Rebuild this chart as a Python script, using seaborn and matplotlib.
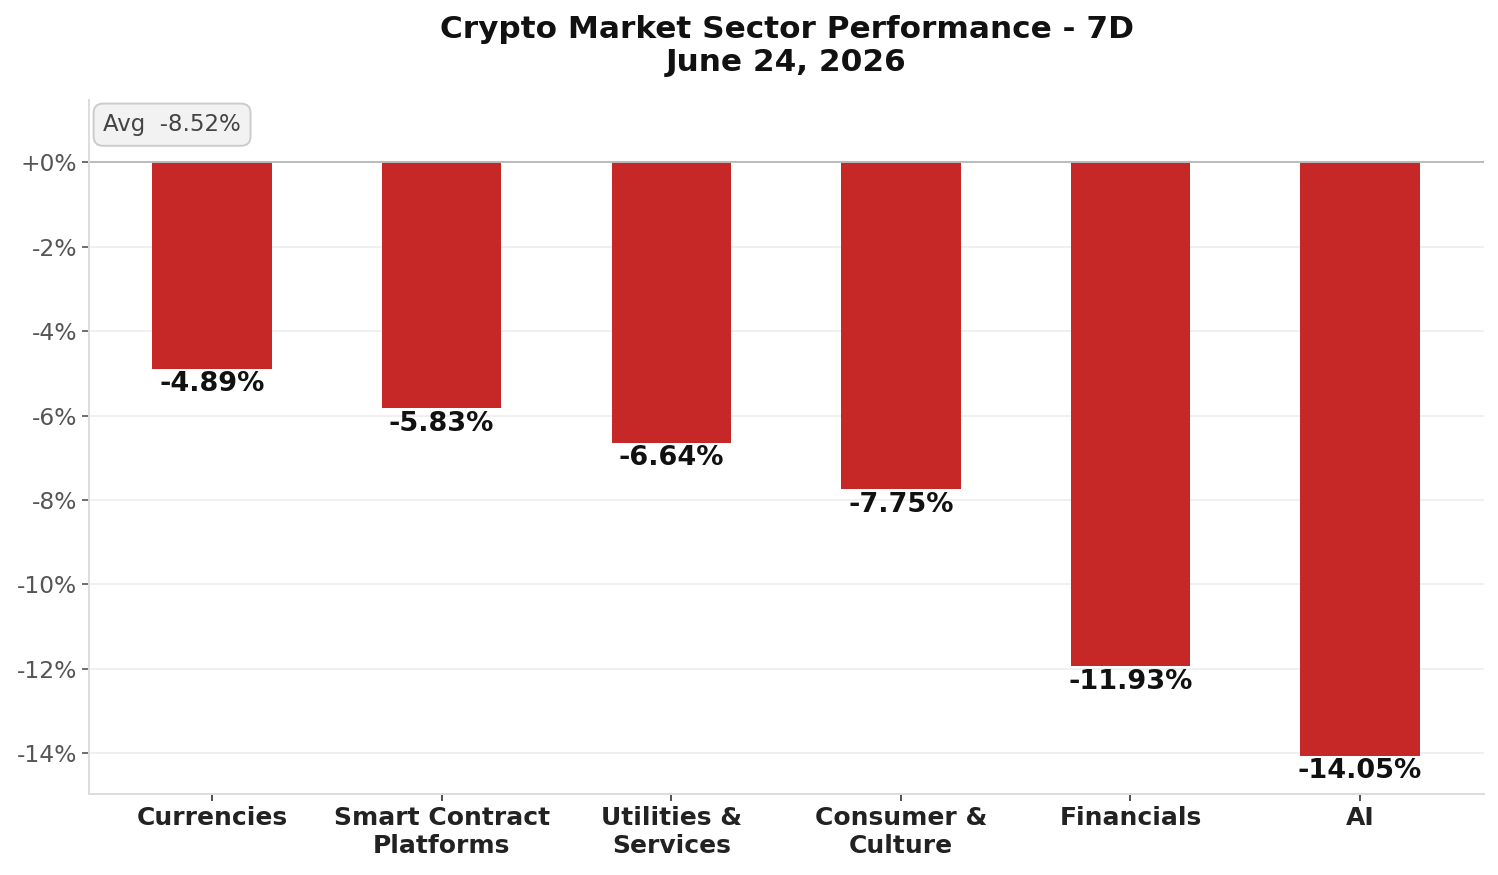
import matplotlib
matplotlib.use("Agg")
import matplotlib.pyplot as plt
import seaborn as sns
import pandas as pd
import numpy as np

# データ
sectors = ["Currencies", "Smart Contract\nPlatforms", "Utilities &\nServices",
           "Consumer &\nCulture", "Financials", "AI"]
changes = [-4.89, -5.83, -6.64, -7.75, -11.93, -14.05]
yticks = [0, -2, -4, -6, -8, -10, -12, -14]
title = "Crypto Market Sector Performance - 7D\nJune 24, 2026"

df = pd.DataFrame({"sector": sectors, "change": changes})
avg = np.mean(changes)

plt.rcParams['font.family'] = ['DejaVu Sans']

fig, ax = plt.subplots(figsize=(14.98, 8.75), dpi=100)
sns.barplot(data=df, x="sector", y="change", color="#c62828", width=0.52,
            saturation=1, linewidth=0, ax=ax)

# 棒の下に値ラベル
for i, v in enumerate(changes):
    ax.annotate(f"{v:.2f}%", (i, v), xytext=(0, -2), textcoords="offset points",
                ha="center", va="top", fontsize=19.5, fontweight="bold", color="#111111")

ax.axhline(0, color="#bbbbbb", lw=1.4, zorder=1)
ax.set_yticks(yticks)
ax.set_yticklabels([f"+{t}%" if t == 0 else f"{t}%" for t in yticks])
ax.yaxis.grid(True, color="#eeeeee", lw=1.2)
ax.set_axisbelow(True)
ax.set_ylim(-14.96, 1.47)
ax.set_xlim(-0.536, 5.54)

for s in ["top", "right"]:
    ax.spines[s].set_visible(False)
for s in ["left", "bottom"]:
    ax.spines[s].set_color("#dddddd")
    ax.spines[s].set_linewidth(1.4)

ax.tick_params(axis="y", labelsize=16.8, colors="#555555", left=True, length=5,
               width=1.2, color="#555555")
ax.tick_params(axis="x", labelsize=18, colors="#222222", bottom=True, length=5,
               width=1.2, color="#333333")
for lab in ax.get_xticklabels():
    lab.set_fontweight("bold")
ax.set_xlabel("")
ax.set_ylabel("")

ax.text(0.0102, 0.981, f"Avg  {avg:.2f}%", transform=ax.transAxes, fontsize=16.5,
        color="#444444", ha="left", va="top",
        bbox=dict(boxstyle="round,pad=0.42", fc="#f2f2f2", ec="#cccccc", lw=1.4))

ax.set_title(title, fontsize=22.4, fontweight="bold", color="#111111", pad=21,
             linespacing=1.15)

plt.subplots_adjust(left=0.0594, right=0.9907, top=0.8857, bottom=0.0926)
fig.savefig("out.png", dpi=100)
